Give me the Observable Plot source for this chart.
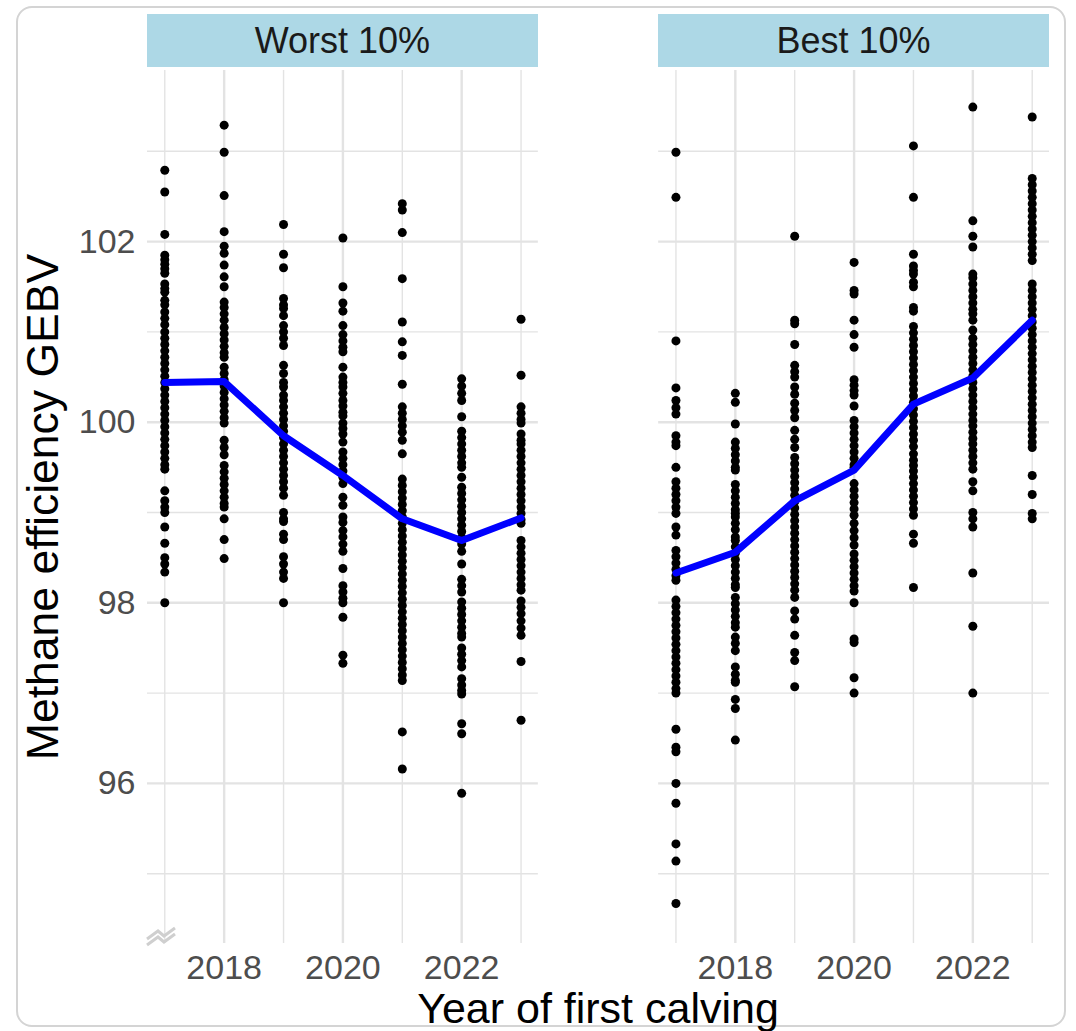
<!DOCTYPE html>
<html>
<head>
<meta charset="utf-8">
<script src="https://cdn.jsdelivr.net/npm/d3@7"></script>
<script src="https://cdn.jsdelivr.net/npm/@observablehq/plot@0.6"></script>
<style>
  html, body { margin: 0; padding: 0; background: #fff; }
  #wrap { position: relative; width: 1076px; height: 1031px; overflow: hidden; font-family: "Liberation Sans", Arial, Helvetica, sans-serif; }
  #frame { position: absolute; left: 16px; top: 6px; width: 1050px; height: 1021px; border: 2px solid #d4d4d4; border-radius: 16px; box-sizing: border-box; }
  .strip { position: absolute; background: #add8e6; color: #1a1a1a; font-size: 36px; display: flex; align-items: center; justify-content: center; }
  .ytitle { position: absolute; font-size: 44.5px; color: #000; white-space: nowrap; transform: translate(-50%, -50%) rotate(-90deg); }
  .xtitle { position: absolute; font-size: 43px; line-height: 1; color: #000; white-space: nowrap; transform: translate(-50%, 0); }
  svg.plot { position: absolute; left: 0; top: 0; }
</style>
</head>
<body>
<div id="wrap"><div id="frame"></div></div>
<script>
const groups = ["Worst 10%", "Best 10%"];
const years = [2017, 2018, 2019, 2020, 2021, 2022, 2023];
const yTicks = [96, 98, 100, 102];
const yMinor = [95, 97, 99, 101, 103];
const xTicks = [2018, 2020, 2022];
const xMinor = [2017, 2019, 2021, 2023];

// Worst 10% GEBV values by year of first calving
const worst2017 = [102.79, 102.55, 102.08, 101.85, 101.8, 101.75, 101.7, 101.65, 101.53, 101.48, 101.44, 101.35, 101.3,
  101.22, 101.15, 101.08, 101.0, 100.93, 100.86, 100.79, 100.72, 100.65, 100.58, 100.51, 100.44, 100.37, 100.3, 100.23,
  100.16, 100.09, 100.02, 99.95, 99.88, 99.81, 99.74, 99.67, 99.6, 99.53, 99.48,
  99.24, 99.13, 99.06, 99.0, 98.84, 98.66, 98.5, 98.43, 98.34, 98.0];
const worst2018 = [103.29, 102.99, 102.51, 102.11, 101.95, 101.87, 101.74, 101.61, 101.5, 101.33,
  101.27, 101.2, 101.13, 101.05, 100.98, 100.91, 100.84, 100.77, 100.72,
  100.61, 100.54, 100.47, 100.4, 100.33, 100.26, 100.19, 100.12, 100.05, 99.99,
  99.8, 99.72, 99.64, 99.52, 99.45, 99.38, 99.31, 99.24, 99.17, 99.1, 99.06, 98.93, 98.7, 98.49];
const worst2019 = [102.19, 101.86, 101.71, 101.37, 101.3, 101.26, 101.18, 101.07, 101.0, 100.93, 100.85, 100.63, 100.54,
  100.44, 100.39, 100.3, 100.24, 100.17, 100.1, 100.03, 99.96, 99.9, 99.83, 99.76, 99.69, 99.62, 99.55, 99.48, 99.41,
  99.34, 99.27, 99.19, 99.0, 98.93, 98.9, 98.76, 98.7, 98.51, 98.43, 98.34, 98.27, 98.0];
const worst2020 = [102.04, 101.5, 101.32, 101.23, 101.07, 100.97, 100.9, 100.83, 100.78, 100.61, 100.5, 100.44, 100.39,
  100.32, 100.24, 100.18, 100.11, 100.07, 99.99, 99.93, 99.87, 99.78, 99.67, 99.6, 99.53, 99.46, 99.39, 99.32,
  99.17, 99.08, 98.95, 98.89, 98.8, 98.73, 98.65, 98.57, 98.38, 98.19, 98.12, 98.05, 98.0, 97.84, 97.42, 97.33];
const worst2021 = [102.42, 102.35, 102.1, 101.59, 101.11, 100.89, 100.74, 100.42,
  100.17, 100.1, 100.03, 99.96, 99.89, 99.8, 99.65,
  99.37, 99.3, 99.23, 99.16, 99.09, 99.02, 98.95, 98.88, 98.81, 98.74, 98.67, 98.6, 98.53, 98.46, 98.39, 98.32,
  98.25, 98.18, 98.11, 98.04, 97.97, 97.9, 97.83, 97.76, 97.69, 97.62, 97.55, 97.48, 97.41, 97.34, 97.27, 97.2, 97.14,
  96.57, 96.16];
const worst2022 = [100.48, 100.4, 100.32, 100.24, 100.06, 99.9, 99.83, 99.76, 99.69, 99.62, 99.55, 99.5, 99.39,
  99.28, 99.21, 99.14, 99.07, 99.0, 98.93, 98.86, 98.79, 98.72, 98.65, 98.57, 98.43, 98.26, 98.19, 98.12,
  98.01, 97.94, 97.87, 97.8, 97.73, 97.66, 97.62, 97.5, 97.43, 97.36, 97.29, 97.16, 97.09, 97.03, 96.99,
  96.66, 96.55, 95.89];
const worst2023 = [101.14, 100.52, 100.17, 100.1, 100.03, 99.99, 99.87, 99.8, 99.76,
  99.69, 99.62, 99.55, 99.48, 99.41, 99.34, 99.27, 99.2, 99.13, 99.06, 98.99, 98.92, 98.88,
  98.69, 98.62, 98.55, 98.48, 98.41, 98.34, 98.27, 98.2, 98.14, 98.02, 97.95, 97.88, 97.8, 97.72, 97.64, 97.35, 96.7];

// Best 10% GEBV values by year of first calving
const best2017 = [102.99, 102.49, 100.9, 100.38, 100.24, 100.16, 100.09, 99.85, 99.78, 99.74, 99.5,
  99.34, 99.27, 99.2, 99.13, 99.06, 98.99, 98.84, 98.75, 98.58, 98.51, 98.44, 98.37, 98.3, 98.25,
  98.03, 97.96, 97.89, 97.82, 97.75, 97.68, 97.61, 97.54, 97.47, 97.4, 97.33, 97.26, 97.19, 97.12, 97.05, 97.0,
  96.6, 96.4, 96.35, 96.0, 95.78, 95.33, 95.14, 94.67];
const best2018 = [100.32, 100.22, 99.98, 99.78, 99.71, 99.64, 99.57, 99.5, 99.47,
  99.31, 99.24, 99.17, 99.1, 99.03, 98.99, 98.95, 98.88, 98.81, 98.73,
  98.69, 98.62, 98.55, 98.48, 98.41, 98.34, 98.27, 98.2, 98.17, 98.06, 97.99, 97.92, 97.85, 97.78, 97.73,
  97.62, 97.55, 97.47, 97.29, 97.21, 97.14, 97.12, 96.93, 96.83, 96.48];
const best2019 = [102.06, 101.13, 101.09, 100.86, 100.63, 100.56, 100.5, 100.39, 100.31, 100.21, 100.13, 100.05,
  99.91, 99.81, 99.72, 99.61, 99.54, 99.47, 99.4, 99.33, 99.26, 99.19, 99.12, 99.05, 98.98, 98.91, 98.84, 98.77,
  98.7, 98.63, 98.56, 98.49, 98.42, 98.35, 98.28, 98.21, 98.14, 98.06, 97.91, 97.82, 97.64, 97.45, 97.36, 97.07];
const best2020 = [101.77, 101.46, 101.42, 101.13, 100.97, 100.83, 100.47, 100.41, 100.35, 100.3, 100.18,
  100.02, 99.95, 99.88, 99.81, 99.74, 99.67, 99.6, 99.53, 99.5, 99.32, 99.25, 99.18, 99.11, 99.04, 98.97, 98.88,
  98.8, 98.72, 98.64, 98.54, 98.47, 98.4, 98.33, 98.26, 98.19, 98.13, 98.0, 97.6, 97.56, 97.17, 97.0];
const best2021 = [103.06, 102.49, 101.86, 101.73, 101.68, 101.64, 101.55, 101.5, 101.27, 101.23,
  101.06, 100.99, 100.92, 100.85, 100.78, 100.71, 100.64, 100.57, 100.5, 100.43, 100.36, 100.29, 100.22, 100.15,
  100.08, 100.01, 99.94, 99.87, 99.8, 99.73, 99.65, 99.58, 99.52, 99.46,
  99.39, 99.32, 99.25, 99.18, 99.11, 99.04, 98.97, 98.76, 98.66, 98.17];
const best2022 = [103.49, 102.23, 102.06, 101.94, 101.64, 101.6, 101.53, 101.46, 101.39, 101.32, 101.25, 101.2,
  101.13, 101.02, 100.93, 100.86, 100.79, 100.72, 100.65, 100.58, 100.51, 100.44, 100.37, 100.3, 100.23, 100.16,
  100.09, 100.02, 99.96, 99.89, 99.82, 99.76, 99.69, 99.62, 99.55, 99.48, 99.34, 99.24, 99.0, 98.93, 98.84,
  98.33, 97.74, 97.0];
const best2023 = [103.38, 102.7, 102.63, 102.56, 102.49, 102.42, 102.35, 102.28, 102.21, 102.14, 102.07, 102.0,
  101.93, 101.86, 101.79, 101.53, 101.46, 101.39, 101.32, 101.25, 101.18, 101.11, 101.04, 100.97, 100.9, 100.83,
  100.76, 100.69, 100.62, 100.55, 100.48, 100.41, 100.34, 100.27, 100.2, 100.13, 100.06, 99.99, 99.92, 99.85,
  99.78, 99.72, 99.41, 99.2, 98.99, 98.93];

// Yearly means (blue line)
const worstMeans = [100.44, 100.45, 99.85, 99.41, 98.93, 98.69, 98.94];
const bestMeans = [98.33, 98.56, 99.13, 99.47, 100.2, 100.49, 101.13];

const worstCols = [worst2017, worst2018, worst2019, worst2020, worst2021, worst2022, worst2023];
const bestCols = [best2017, best2018, best2019, best2020, best2021, best2022, best2023];

const points = [];
[worstCols, bestCols].forEach((cols, gi) => {
  cols.forEach((vals, yi) => vals.forEach(v => points.push({group: groups[gi], year: years[yi], value: v})));
});
const means = [];
[worstMeans, bestMeans].forEach((ms, gi) => ms.forEach((m, yi) => means.push({group: groups[gi], year: years[yi], value: m})));

const W = 1076, H = 1031;
const mL = 147, mR = 27, mT = 70, mB = 88;

const chart = Plot.plot({
  width: W,
  height: H,
  marginLeft: mL,
  marginRight: mR,
  marginTop: mT,
  marginBottom: mB,
  style: {fontFamily: '"Liberation Sans", Arial, Helvetica, sans-serif', background: "transparent"},
  fx: {domain: groups, paddingInner: 0.2354, paddingOuter: 0, round: false, axis: null, label: null},
  x: {domain: [2016.709, 2023.291], label: null},
  y: {domain: [94.227, 103.895], label: null},
  marks: [
    Plot.gridY(yMinor, {stroke: "#e3e3e3", strokeOpacity: 1, strokeWidth: 1.4}),
    Plot.gridX(xMinor, {stroke: "#e3e3e3", strokeOpacity: 1, strokeWidth: 1.4}),
    Plot.gridY(yTicks, {stroke: "#e3e3e3", strokeOpacity: 1, strokeWidth: 2.4}),
    Plot.gridX(xTicks, {stroke: "#e3e3e3", strokeOpacity: 1, strokeWidth: 2.4}),
    Plot.axisY({ticks: yTicks, tickSize: 0, tickPadding: 12, fontSize: 34, fill: "#4d4d4d", label: null, tickFormat: d => String(d)}),
    Plot.axisX({ticks: xTicks, tickSize: 0, tickPadding: 11, fontSize: 34, fill: "#4d4d4d", label: null, tickFormat: d => String(d)}),
    Plot.dot(points, {x: "year", y: "value", fx: "group", r: 4.5, fill: "#000", stroke: "none"}),
    Plot.line(means, {x: "year", y: "value", fx: "group", stroke: "#0000ff", strokeWidth: 7, strokeLinejoin: "round"})
  ]
});
chart.classList.add("plot");
const wrap = document.getElementById("wrap");
wrap.appendChild(chart);

// Facet strips positioned from the fx scale
const fx = chart.scale("fx");
const bw = fx.bandwidth;
groups.forEach(g => {
  const left = fx.apply(g);
  const d = document.createElement("div");
  d.className = "strip";
  d.style.left = left + "px";
  d.style.top = "14px";
  d.style.width = bw + "px";
  d.style.height = "53px";
  d.textContent = g;
  wrap.appendChild(d);
});

// Axis break marker at the bottom-left of the first panel
const ys = chart.scale("y");
const bx = fx.apply(groups[0]);
const by = ys.apply(94.227);
const ns = "http://www.w3.org/2000/svg";
const brk = document.createElementNS(ns, "svg");
brk.setAttribute("width", W); brk.setAttribute("height", H);
brk.style.position = "absolute"; brk.style.left = "0"; brk.style.top = "0";
[0, 6].forEach(off => {
  const p = document.createElementNS(ns, "polyline");
  const x0 = bx + 0, y0 = by - 4 + off;
  p.setAttribute("points", `${x0},${y0} ${x0+11},${y0-8} ${x0+17},${y0-3} ${x0+28},${y0-11}`);
  p.setAttribute("fill", "none");
  p.setAttribute("stroke", "#cfcfcf");
  p.setAttribute("stroke-width", "3");
  brk.appendChild(p);
});
wrap.appendChild(brk);

// Axis titles
const yt = document.createElement("div");
yt.className = "ytitle";
yt.textContent = "Methane efficiency GEBV";
yt.style.left = "43px";
yt.style.top = ((mT + (H - mB)) / 2) + "px";
wrap.appendChild(yt);

const xt = document.createElement("div");
xt.className = "xtitle";
xt.textContent = "Year of first calving";
xt.style.left = ((fx.apply(groups[0]) + fx.apply(groups[1]) + bw) / 2) + "px";
xt.style.top = "987px";
wrap.appendChild(xt);
</script>
</body>
</html>
